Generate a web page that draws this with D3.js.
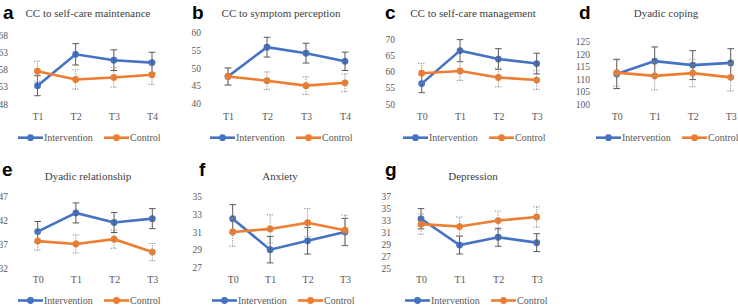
<!DOCTYPE html>
<html>
<head>
<meta charset="utf-8">
<script src="https://cdn.jsdelivr.net/npm/d3@7"></script>
<style>
  body { margin: 0; background: #fff; }
  svg { display: block; }
</style>
</head>
<body>
<div id="chart"></div>
<script>
// time points
const timesA = ["T1", "T2", "T3", "T4"];
const timesB = ["T0", "T1", "T2", "T3"];

// panel a: CC to self-care maintenance
const aInt = [53.3, 62.4, 60.7, 60.0];
const aIntErr = [2.9, 3.1, 3.0, 3.0];
const aCtl = [57.5, 55.1, 55.7, 56.5];
const aCtlErr = [2.9, 2.8, 2.8, 2.8];

// panel b: CC to symptom perception
const bInt = [47.6, 55.9, 54.2, 51.9];
const bIntErr = [2.4, 2.8, 2.8, 2.6];
const bCtl = [47.6, 46.4, 45.0, 45.8];
const bCtlErr = [2.5, 2.5, 2.5, 2.5];

// panel c: CC to self-care management
const cInt = [56.3, 66.5, 63.9, 62.5];
const cIntErr = [2.8, 3.4, 3.2, 3.2];
const cCtl = [59.5, 60.2, 58.2, 57.4];
const cCtlErr = [3.0, 2.9, 2.9, 2.9];

// panel d: Dyadic coping
const dInt = [112.0, 117.2, 115.6, 116.5];
const dIntErr = [5.8, 5.7, 5.8, 5.7];
const dCtl = [112.6, 111.3, 112.4, 110.7];
const dCtlErr = [5.5, 5.6, 5.5, 5.5];

// panel e: Dyadic relationship
const eInt = [39.7, 43.6, 41.6, 42.4];
const eIntErr = [2.1, 2.1, 2.1, 2.1];
const eCtl = [37.7, 37.1, 38.1, 35.4];
const eCtlErr = [1.9, 1.9, 1.9, 1.8];

// panel f: Anxiety
const fInt = [32.5, 29.0, 30.0, 31.0];
const fIntErr = [1.6, 1.5, 1.5, 1.55];
const fCtl = [31.0, 31.35, 32.05, 31.2];
const fCtlErr = [1.6, 1.6, 1.6, 1.7];

// panel g: Depression
const gInt = [33.3, 28.9, 30.2, 29.3];
const gIntErr = [1.7, 1.5, 1.5, 1.5];
const gCtl = [32.4, 32.0, 33.0, 33.6];
const gCtlErr = [1.7, 1.6, 1.6, 1.7];

// y tick labels
const aTicks = [48, 53, 58, 63, 68];
const bTicks = [40, 45, 50, 55, 60];
const cTicks = [50, 55, 60, 65, 70];
const dTicks = [100, 105, 110, 115, 120, 125];
const eTicks = [32, 37, 42, 47];
const fTicks = [27, 29, 31, 33, 35];
const gTicks = [25, 27, 29, 31, 33, 35, 37];

const blue = "#4472C4", orange = "#ED7D31";
const serif = "'Liberation Serif'";

const svg = d3.select("#chart").append("svg")
    .attr("width", 738)
    .attr("height", 305);

const panels = [
  {letter: "a", title: "CC to self-care maintenance", times: timesA, yi: aInt, yie: aIntErr, yc: aCtl, yce: aCtlErr,
   ticks: aTicks, x0: 37.5, x1: 152, y0: 104, y1: 35, lx: 3, tx: 88, top: 0, labelX: 8, legX: 18},
  {letter: "b", title: "CC to symptom perception", times: timesA, yi: bInt, yie: bIntErr, yc: bCtl, yce: bCtlErr,
   ticks: bTicks, x0: 228, x1: 345, y0: 103.3, y1: 32.7, lx: 192, tx: 281, top: 0, labelX: 201, legX: 210},
  {letter: "c", title: "CC to self-care management", times: timesB, yi: cInt, yie: cIntErr, yc: cCtl, yce: cCtlErr,
   ticks: cTicks, x0: 421.7, x1: 536.7, y0: 104, y1: 39.3, lx: 385, tx: 473, top: 0, labelX: 395, legX: 403},
  {letter: "d", title: "Dyadic coping", times: timesB, yi: dInt, yie: dIntErr, yc: dCtl, yce: dCtlErr,
   ticks: dTicks, x0: 616.7, x1: 730.7, y0: 104, y1: 41.7, lx: 579, tx: 666, top: 0, labelX: 590, legX: 596},
  {letter: "e", title: "Dyadic relationship", times: timesB, yi: eInt, yie: eIntErr, yc: eCtl, yce: eCtlErr,
   ticks: eTicks, x0: 37.7, x1: 152.3, y0: 268.3, y1: 196.7, lx: 2, tx: 88, top: 150, labelX: 8, legX: 18},
  {letter: "f", title: "Anxiety", times: timesB, yi: fInt, yie: fIntErr, yc: fCtl, yce: fCtlErr,
   ticks: fTicks, x0: 232.7, x1: 345, y0: 267.3, y1: 196.7, lx: 199, tx: 280, top: 150, labelX: 202, legX: 212},
  {letter: "g", title: "Depression", times: timesB, yi: gInt, yie: gIntErr, yc: gCtl, yce: gCtlErr,
   ticks: gTicks, x0: 421, x1: 536.7, y0: 268.3, y1: 196.7, lx: 385, tx: 473, top: 150, labelX: 391, legX: 405}
];

panels.forEach(drawPanel);

function drawPanel(p) {
  const g = svg.append("g");
  const top = p.top;

  // panel letter
  g.append("text")
      .attr("x", p.lx).attr("y", top + (top ? 26 : 19))
      .style("font-family", "'Liberation Sans'")
      .style("font-weight", "bold").style("font-size", "19px")
      .text(p.letter);

  // title
  g.append("text")
      .attr("x", p.tx).attr("y", top + (top ? 30 : 17))
      .attr("text-anchor", "middle")
      .style("font-family", serif).style("font-size", "11px").style("fill", "#404040")
      .text(p.title);

  const x = d3.scalePoint().domain(p.times).range([p.x0, p.x1]);
  const y = d3.scaleLinear()
      .domain([p.ticks[0], p.ticks[p.ticks.length - 1]])
      .range([p.y0, p.y1]);

  // y axis labels only (no axis line)
  const ya = g.append("g")
      .attr("transform", "translate(" + p.labelX + ",0)")
      .call(d3.axisLeft(y).tickValues(p.ticks).tickSize(0).tickPadding(0));
  ya.select(".domain").remove();
  ya.selectAll("text")
      .style("font-family", serif).style("font-size", "9.5px").style("fill", "#595959");

  // x axis labels
  const xa = g.append("g")
      .attr("transform", "translate(0," + (top + (top ? 126 : 113)) + ")")
      .call(d3.axisBottom(x).tickSize(0).tickPadding(0));
  xa.select(".domain").remove();
  xa.selectAll("text")
      .style("font-family", serif).style("font-size", "10px").style("fill", "#595959");

  const line = d3.line()
      .x((d, i) => x(p.times[i]))
      .y(d => y(d));

  const series = [
    {vals: p.yi, err: p.yie, color: blue, errColor: "#595959", dash: null},
    {vals: p.yc, err: p.yce, color: orange, errColor: "#8c8c8c", dash: "1.2,1.2"}
  ];

  series.forEach(s => {
    g.append("path")
        .datum(s.vals)
        .attr("d", line)
        .attr("fill", "none")
        .attr("stroke", s.color)
        .attr("stroke-width", 2.6);

    g.selectAll(null)
        .data(s.vals)
        .enter().append("circle")
        .attr("cx", (d, i) => x(p.times[i]))
        .attr("cy", d => y(d))
        .attr("r", 3.4)
        .attr("fill", s.color);

    const eb = g.selectAll(null)
        .data(s.vals)
        .enter().append("g")
        .attr("stroke", s.errColor)
        .attr("stroke-width", 1)
        .attr("stroke-dasharray", s.dash);
    eb.append("line")
        .attr("x1", (d, i) => x(p.times[i])).attr("x2", (d, i) => x(p.times[i]))
        .attr("y1", (d, i) => y(d - s.err[i])).attr("y2", (d, i) => y(d + s.err[i]));
    eb.append("line")
        .attr("x1", (d, i) => x(p.times[i]) - 3.3).attr("x2", (d, i) => x(p.times[i]) + 3.3)
        .attr("y1", (d, i) => y(d + s.err[i])).attr("y2", (d, i) => y(d + s.err[i]));
    eb.append("line")
        .attr("x1", (d, i) => x(p.times[i]) - 3.3).attr("x2", (d, i) => x(p.times[i]) + 3.3)
        .attr("y1", (d, i) => y(d - s.err[i])).attr("y2", (d, i) => y(d - s.err[i]));
  });

  // legend
  const ly = top + (top ? 150.5 : 137.7);
  const legend = [
    {name: "Intervention", color: blue, x: p.legX},
    {name: "Control", color: orange, x: p.legX + 86}
  ];
  legend.forEach(l => {
    g.append("line")
        .attr("x1", l.x).attr("x2", l.x + 25)
        .attr("y1", ly).attr("y2", ly)
        .attr("stroke", l.color).attr("stroke-width", 2.6);
    g.append("circle")
        .attr("cx", l.x + 12.5).attr("cy", ly).attr("r", 3.4)
        .attr("fill", l.color);
    g.append("text")
        .attr("x", l.x + 26).attr("y", ly)
        .attr("dy", "0.35em")
        .style("font-family", serif).style("font-size", "10px").style("fill", "#595959")
        .text(l.name);
  });
}
</script>
</body>
</html>
